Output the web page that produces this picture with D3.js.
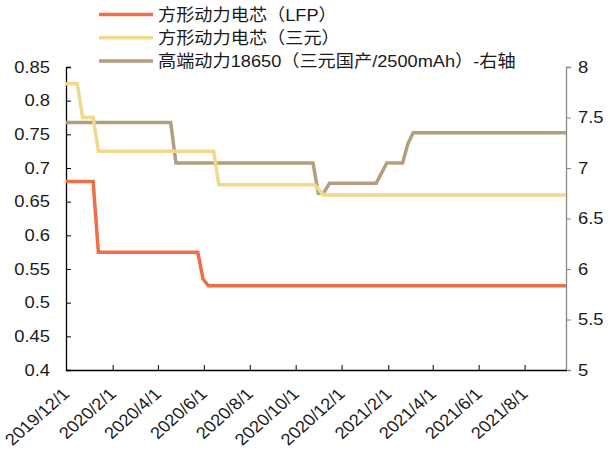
<!DOCTYPE html>
<html><head><meta charset="utf-8">
<script src="https://cdn.jsdelivr.net/npm/d3@7"></script>
<style>body{margin:0;background:#fff}svg text{font-family:"Liberation Sans",Arial,"Noto Sans CJK SC",sans-serif;fill:#1a1a1a}</style>
</head><body><svg id="c" width="610" height="456"></svg>
<script>
const seriesNames = ["方形动力电芯（LFP）","方形动力电芯（三元）","高端动力18650（三元国产/2500mAh）-右轴"];
const lfpDates = ["2019-12-01","2020-01-06","2020-01-13","2020-05-24","2020-05-31","2020-06-07","2021-09-25"];
const lfpValues = [0.68,0.68,0.575,0.575,0.535,0.525,0.525];
const nmcDates = ["2019-12-01","2019-12-16","2019-12-23","2020-01-06","2020-01-13","2020-06-14","2020-06-21","2020-10-26","2020-11-07","2021-09-25"];
const nmcValues = [0.825,0.825,0.775,0.775,0.725,0.725,0.675,0.675,0.66,0.66];
const c18650Dates = ["2019-12-01","2020-04-18","2020-04-25","2020-10-24","2020-10-31","2020-11-07","2020-11-15","2021-01-16","2021-01-30","2021-02-20","2021-02-27","2021-03-06","2021-09-25"];
const c18650Values = [7.45,7.45,7.05,7.05,6.75,6.75,6.85,6.85,7.05,7.05,7.24,7.35,7.35];
const xTickDates = ["2019-12-01","2020-02-01","2020-04-01","2020-06-01","2020-08-01","2020-10-01","2020-12-01","2021-02-01","2021-04-01","2021-06-01","2021-08-01"];
const xTickLabels = ["2019/12/1","2020/2/1","2020/4/1","2020/6/1","2020/8/1","2020/10/1","2020/12/1","2021/2/1","2021/4/1","2021/6/1","2021/8/1"];
const leftTicks = [0.4,0.45,0.5,0.55,0.6,0.65,0.7,0.75,0.8,0.85];
const rightTicks = [5,5.5,6,6.5,7,7.5,8];
const colors = ["#EF6E48","#F0D98A","#B59E7F"];

const parse = d3.timeParse("%Y-%m-%d");
const svg = d3.select("#c");
const L = 66, R = 566, T = 67, B = 370, SX = 1.13;
const x = d3.scaleTime().domain([parse("2019-12-01"), parse("2021-09-25")]).range([L, R]);
const yL = d3.scaleLinear().domain([0.4, 0.85]).range([B, T]);
const yR = d3.scaleLinear().domain([5, 8]).range([B, T]);

// left axis
const gl = svg.append("g").attr("transform", `translate(${L},0)`)
  .call(d3.axisLeft(yL).tickValues(leftTicks).tickSize(-5).tickFormat(d => String(+d.toFixed(2))));
gl.select(".domain").attr("stroke","#000").attr("stroke-width",1.3);
gl.selectAll(".tick line").attr("stroke","#000");
gl.selectAll(".tick text").style("font-size","16.3px").attr("x",0)
  .attr("transform",`translate(-16,0) scale(${SX},1)`);

// right axis
const gr = svg.append("g").attr("transform", `translate(${R},0)`)
  .call(d3.axisRight(yR).tickValues(rightTicks).tickSize(5).tickFormat(d => String(d)));
gr.select(".domain").attr("stroke","#888").attr("stroke-width",1.3);
gr.selectAll(".tick line").attr("stroke","#888");
gr.selectAll(".tick text").style("font-size","16.3px").attr("x",0)
  .attr("transform",`translate(12,0) scale(${SX},1)`);

// x axis
const gx = svg.append("g").attr("transform", `translate(0,${B})`)
  .call(d3.axisBottom(x).tickValues(xTickDates.map(parse)).tickSize(-5).tickSizeOuter(0)
    .tickFormat((d,i) => xTickLabels[i]));
gx.select(".domain").attr("stroke","#000").attr("stroke-width",1.3);
gx.selectAll(".tick line").attr("stroke","#000");
gx.selectAll(".tick text").style("font-size","16.3px")
  .attr("text-anchor","end").attr("x",0).attr("y",0).attr("dy",0)
  .attr("transform",`translate(4,25) scale(${SX},1) rotate(-45)`);

// lines
const line = (ys) => d3.line().x(d => x(d[0])).y(d => ys(d[1]));
const mk = (ds, vs) => ds.map((d,i) => [parse(d), vs[i]]);
svg.append("path").datum(mk(c18650Dates,c18650Values)).attr("d", line(yR))
  .attr("fill","none").attr("stroke",colors[2]).attr("stroke-width",3.5);
svg.append("path").datum(mk(nmcDates,nmcValues)).attr("d", line(yL))
  .attr("fill","none").attr("stroke",colors[1]).attr("stroke-width",3.5);
svg.append("path").datum(mk(lfpDates,lfpValues)).attr("d", line(yL))
  .attr("fill","none").attr("stroke",colors[0]).attr("stroke-width",3.5);

// legend
const lg = svg.append("g");
seriesNames.forEach((n,i) => {
  const yy = 14.5 + i*23.2;
  lg.append("line").attr("x1",99).attr("x2",153).attr("y1",yy).attr("y2",yy)
    .attr("stroke",colors[i]).attr("stroke-width",3.5);
  lg.append("text").attr("x",0).attr("y",0).attr("dy","0.36em").style("font-size","17px")
    .attr("transform",`translate(158,${yy}) scale(1.07,1)`).text(n);
});
</script></body></html>
